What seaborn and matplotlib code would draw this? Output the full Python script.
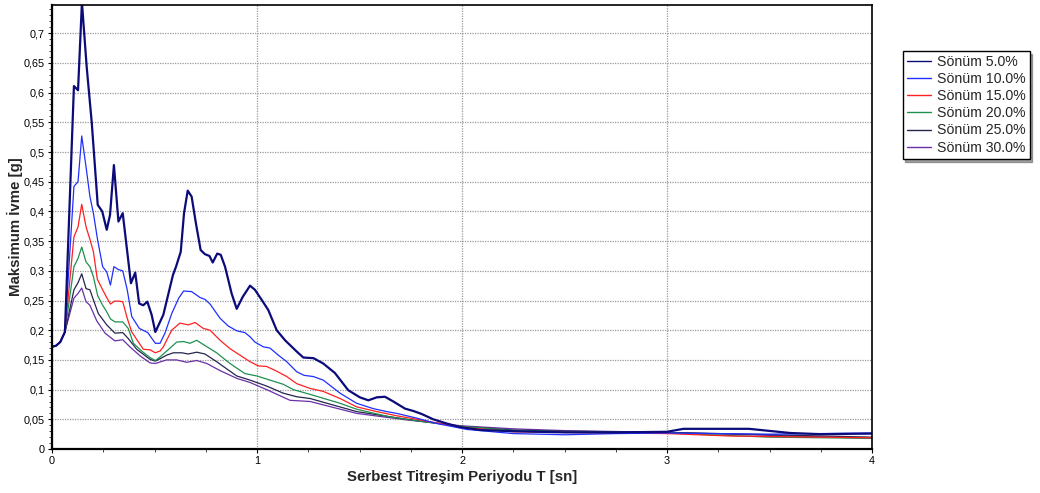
import matplotlib
matplotlib.use("Agg")
import matplotlib.pyplot as plt
from matplotlib.ticker import MultipleLocator, FuncFormatter
import seaborn as sns
import pandas as pd

# Response spectra: period T [s] and maximum acceleration [g] for each damping ratio
t_05 = [0, 0.02, 0.04, 0.063, 0.107, 0.127, 0.146, 0.169, 0.194, 0.223, 0.245, 0.267, 0.283, 0.302,
        0.324, 0.345, 0.385, 0.406, 0.425, 0.445, 0.465, 0.486, 0.504, 0.527, 0.543, 0.590, 0.605,
        0.628, 0.644, 0.662, 0.681, 0.702, 0.725, 0.746, 0.768, 0.784, 0.806, 0.823, 0.844, 0.876,
        0.901, 0.930, 0.966, 0.990, 1.023, 1.055, 1.096, 1.137, 1.194, 1.226, 1.275, 1.323, 1.380,
        1.445, 1.502, 1.543, 1.584, 1.624, 1.665, 1.722, 1.763, 1.803, 1.860, 1.925, 1.990, 2.088,
        2.25, 2.5, 2.75, 3.0, 3.08, 3.4, 3.6, 3.75, 4.0]
a_05 = [0.172, 0.174, 0.180, 0.197, 0.611, 0.604, 0.752, 0.644, 0.549, 0.411, 0.400, 0.369, 0.394, 0.478,
        0.383, 0.397, 0.279, 0.297, 0.245, 0.242, 0.248, 0.226, 0.197, 0.214, 0.226, 0.293, 0.307,
        0.332, 0.397, 0.435, 0.425, 0.380, 0.335, 0.328, 0.325, 0.314, 0.329, 0.327, 0.307, 0.262,
        0.236, 0.256, 0.275, 0.268, 0.251, 0.234, 0.200, 0.183, 0.164, 0.154, 0.153, 0.144, 0.128,
        0.099, 0.087, 0.082, 0.087, 0.088, 0.080, 0.068, 0.064, 0.059, 0.050, 0.043, 0.037, 0.032,
        0.030, 0.028, 0.028, 0.029, 0.034, 0.034, 0.027, 0.025, 0.026]

t_10 = [0, 0.02, 0.04, 0.063, 0.107, 0.127, 0.145, 0.166, 0.185, 0.202, 0.221, 0.247, 0.267, 0.285,
        0.302, 0.324, 0.345, 0.367, 0.389, 0.426, 0.467, 0.504, 0.527, 0.551, 0.584, 0.618, 0.642,
        0.681, 0.722, 0.746, 0.771, 0.820, 0.860, 0.901, 0.941, 0.966, 0.990, 1.031, 1.063, 1.104,
        1.145, 1.194, 1.230, 1.275, 1.323, 1.405, 1.486, 1.567, 1.633, 1.681, 1.779, 1.876, 2.023,
        2.25, 2.5, 2.75, 3.0, 3.5, 4.0]
a_10 = [0.172, 0.174, 0.180, 0.197, 0.442, 0.450, 0.527, 0.475, 0.425, 0.397, 0.355, 0.307, 0.298, 0.276,
        0.307, 0.302, 0.300, 0.268, 0.223, 0.203, 0.196, 0.178, 0.178, 0.195, 0.228, 0.254, 0.266,
        0.265, 0.255, 0.252, 0.244, 0.220, 0.207, 0.199, 0.196, 0.189, 0.180, 0.172, 0.170, 0.158,
        0.147, 0.130, 0.124, 0.122, 0.116, 0.094, 0.077, 0.068, 0.063, 0.060, 0.052, 0.043, 0.033,
        0.026, 0.024, 0.026, 0.027, 0.025, 0.027]

t_15 = [0, 0.02, 0.04, 0.063, 0.107, 0.127, 0.145, 0.166, 0.185, 0.202, 0.221, 0.247, 0.267, 0.285,
        0.305, 0.324, 0.345, 0.367, 0.389, 0.426, 0.445, 0.478, 0.504, 0.527, 0.543, 0.584, 0.624,
        0.665, 0.698, 0.738, 0.771, 0.820, 0.868, 0.917, 0.966, 1.006, 1.047, 1.096, 1.145, 1.194,
        1.259, 1.323, 1.405, 1.486, 1.584, 1.681, 1.811, 1.941, 2.05, 2.25, 2.5, 2.75, 3.0, 3.3,
        3.5, 4.0]
a_15 = [0.172, 0.174, 0.180, 0.197, 0.357, 0.374, 0.412, 0.374, 0.353, 0.332, 0.286, 0.268, 0.255, 0.244,
        0.249, 0.249, 0.248, 0.220, 0.197, 0.178, 0.168, 0.167, 0.162, 0.165, 0.172, 0.200, 0.212,
        0.209, 0.213, 0.203, 0.200, 0.183, 0.169, 0.158, 0.147, 0.140, 0.139, 0.131, 0.122, 0.110,
        0.102, 0.097, 0.085, 0.071, 0.063, 0.056, 0.048, 0.040, 0.035, 0.029, 0.028, 0.027, 0.026,
        0.022, 0.021, 0.019]

t_20 = [0, 0.02, 0.04, 0.063, 0.107, 0.127, 0.145, 0.166, 0.185, 0.202, 0.223, 0.247, 0.267, 0.285,
        0.307, 0.345, 0.372, 0.397, 0.437, 0.478, 0.504, 0.527, 0.576, 0.608, 0.642, 0.673, 0.706,
        0.738, 0.803, 0.868, 0.941, 0.999, 1.063, 1.128, 1.177, 1.259, 1.405, 1.486, 1.649, 1.811,
        1.974, 2.25, 2.5, 3.0, 3.5, 4.0]
a_20 = [0.172, 0.174, 0.180, 0.197, 0.307, 0.321, 0.340, 0.315, 0.307, 0.290, 0.258, 0.242, 0.231, 0.219,
        0.214, 0.214, 0.203, 0.178, 0.165, 0.154, 0.149, 0.155, 0.170, 0.180, 0.181, 0.178, 0.183,
        0.176, 0.162, 0.144, 0.127, 0.123, 0.116, 0.109, 0.100, 0.092, 0.077, 0.067, 0.054, 0.046,
        0.039, 0.031, 0.029, 0.027, 0.020, 0.018]

t_25 = [0, 0.02, 0.04, 0.063, 0.107, 0.127, 0.145, 0.166, 0.185, 0.202, 0.226, 0.267, 0.307, 0.345,
        0.372, 0.413, 0.478, 0.504, 0.527, 0.559, 0.592, 0.633, 0.665, 0.706, 0.746, 0.803, 0.901,
        0.966, 1.047, 1.128, 1.194, 1.259, 1.486, 1.730, 2.0, 2.25, 2.5, 3.0, 3.5, 4.0]
a_25 = [0.172, 0.174, 0.180, 0.197, 0.268, 0.280, 0.295, 0.270, 0.268, 0.251, 0.228, 0.209, 0.195, 0.196,
        0.186, 0.168, 0.151, 0.148, 0.152, 0.158, 0.162, 0.162, 0.160, 0.163, 0.160, 0.147, 0.123,
        0.116, 0.106, 0.094, 0.088, 0.085, 0.063, 0.050, 0.038, 0.032, 0.030, 0.028, 0.024, 0.020]

t_30 = [0, 0.02, 0.04, 0.063, 0.107, 0.127, 0.145, 0.166, 0.185, 0.218, 0.259, 0.307, 0.345, 0.380,
        0.429, 0.478, 0.504, 0.559, 0.608, 0.657, 0.706, 0.755, 0.820, 0.901, 0.966, 1.047, 1.161,
        1.259, 1.486, 1.730, 2.0, 2.25, 2.5, 3.0, 3.5, 4.0]
a_30 = [0.172, 0.174, 0.180, 0.197, 0.254, 0.262, 0.271, 0.248, 0.242, 0.216, 0.195, 0.182, 0.184, 0.172,
        0.157, 0.145, 0.144, 0.150, 0.150, 0.146, 0.149, 0.144, 0.132, 0.119, 0.112, 0.100, 0.082,
        0.080, 0.060, 0.049, 0.039, 0.034, 0.031, 0.028, 0.023, 0.018]

labels = ["Sönüm 5.0%", "Sönüm 10.0%", "Sönüm 15.0%", "Sönüm 20.0%", "Sönüm 25.0%", "Sönüm 30.0%"]
colors = ["#0b0b7a", "#1f2fff", "#ff2020", "#1f9050", "#25254f", "#6a30a8"]
widths = [1.6, 0.9, 0.9, 0.9, 0.9, 0.9]

periods = [t_05, t_10, t_15, t_20, t_25, t_30]
accels = [a_05, a_10, a_15, a_20, a_25, a_30]

frames = []
for lab, t, a in zip(labels, periods, accels):
    frames.append(pd.DataFrame({"T": t, "A": a, "Sönüm": lab}))
df = pd.concat(frames, ignore_index=True)

sns.set_style("white")
plt.rcParams["font.family"] = ["Liberation Sans", "DejaVu Sans"]

fig = plt.figure(figsize=(10.40, 4.93), dpi=100)
ax = fig.add_axes([0.05, 0.0892, 0.7885, 0.9013])

# draw the heavily damped curves first so the 5% curve stays on top
for lab, col, lw in reversed(list(zip(labels, colors, widths))):
    sns.lineplot(data=df[df["Sönüm"] == lab], x="T", y="A", color=col, linewidth=lw,
                 estimator=None, sort=False, ax=ax, label=lab, legend=False)

ax.set_xlim(0, 4)
ax.set_ylim(0, 0.748)
ax.xaxis.set_major_locator(MultipleLocator(1))
ax.xaxis.set_minor_locator(MultipleLocator(0.25))
ax.yaxis.set_major_locator(MultipleLocator(0.05))
ax.yaxis.set_minor_locator(MultipleLocator(0.01))
ax.yaxis.set_major_formatter(FuncFormatter(lambda v, p: f"{v:g}".replace(".", ",")))
ax.xaxis.set_major_formatter(FuncFormatter(lambda v, p: f"{v:g}"))

ax.grid(True, which="major", color="#9a9a9a", linestyle=(0, (1, 1)), linewidth=0.9)
ax.tick_params(axis="both", which="major", direction="out", length=3, width=0.8,
               labelsize=7.8, colors="#000000", pad=2)
ax.tick_params(axis="both", which="minor", direction="out", length=2, width=0.6)
ax.tick_params(bottom=True, left=True, which="both")
for side in ["left", "bottom", "top", "right"]:
    ax.spines[side].set_visible(True)
    ax.spines[side].set_color("#000000")
    ax.spines[side].set_linewidth(1.6)
ax.spines["top"].set_linewidth(1.2)
ax.spines["right"].set_linewidth(1.2)

ax.set_xlabel("Serbest Titreşim Periyodu T [sn]", fontsize=10.8, fontweight="bold", labelpad=3)
ax.set_ylabel("Maksimum İvme [g]", fontsize=10.8, fontweight="bold")
ax.yaxis.set_label_coords(-0.035, 0.5)

handles, hlabels = ax.get_legend_handles_labels()
order = [hlabels.index(l) for l in labels]
leg = fig.legend([handles[i] for i in order], [hlabels[i] for i in order],
                 loc="upper left", bbox_to_anchor=(0.868, 0.897), bbox_transform=fig.transFigure,
                 fontsize=10.2, frameon=True, fancybox=False, shadow=True, borderpad=0.3,
                 labelspacing=0.22, handlelength=1.7, handletextpad=0.4, borderaxespad=0)
leg.get_frame().set_edgecolor("#000000")
leg.get_frame().set_linewidth(1.0)
for h in leg.get_lines():
    h.set_linewidth(1.0)

fig.savefig("out.png", dpi=100)
